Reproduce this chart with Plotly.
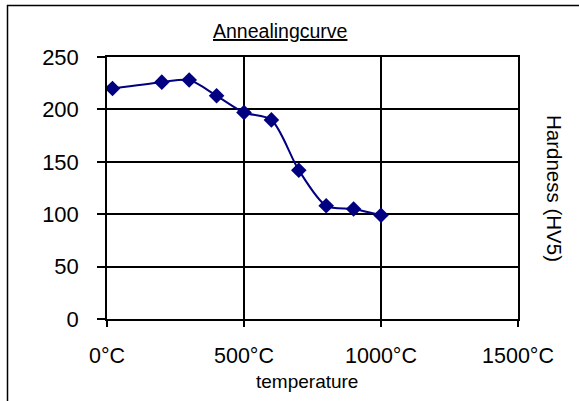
import plotly.graph_objects as go

temperature = [20, 200, 300, 400, 500, 600, 700, 800, 900, 1000]
hardness = [220, 226, 228, 213, 197, 190, 142, 108, 105, 99]
x_ticks = [0, 500, 1000, 1500]
x_tick_labels = ["0°C", "500°C", "1000°C", "1500°C"]
y_ticks = [0, 50, 100, 150, 200, 250]

navy = "#000080"
font_family = "Liberation Sans, Arial, sans-serif"

fig = go.Figure()
fig.add_trace(go.Scatter(
    x=temperature, y=hardness, mode="lines+markers",
    line=dict(color=navy, width=2, shape="spline", smoothing=0.8),
    marker=dict(symbol="diamond", size=12, color=navy),
    showlegend=False, hoverinfo="skip",
))

fig.update_layout(
    width=579, height=401,
    margin=dict(l=107, r=61, t=57, b=82),
    paper_bgcolor="white", plot_bgcolor="white",
    font=dict(family=font_family, color="black"),
    xaxis=dict(
        range=[0, 1500], tickvals=x_ticks, ticktext=x_tick_labels,
        showgrid=True, gridcolor="black", gridwidth=1.5,
        showline=True, linecolor="black", linewidth=1.5, mirror=True,
        ticks="outside", ticklen=6, tickcolor="black", tickwidth=1.5,
        tickfont=dict(size=21.5), ticklabelstandoff=10, zeroline=False,
    ),
    yaxis=dict(
        range=[0, 250], tickvals=y_ticks,
        showgrid=True, gridcolor="black", gridwidth=1.5,
        showline=True, linecolor="black", linewidth=1.5, mirror=True,
        ticks="outside", ticklen=8, tickcolor="black", tickwidth=1.5,
        tickfont=dict(size=22), ticklabelstandoff=14, zeroline=False,
    ),
    annotations=[
        dict(text="<u>Annealingcurve</u>", xref="paper", yref="paper",
             x=(279.5 - 107) / 411, y=(319 - 31) / 262, xanchor="center", yanchor="middle",
             showarrow=False,
             font=dict(family="Liberation Sans Narrow, Arial Narrow, Liberation Sans, sans-serif", size=19.5)),
        dict(text="temperature", xref="paper", yref="paper",
             x=(306.5 - 107) / 411, y=(319 - 381) / 262, xanchor="center", yanchor="middle",
             showarrow=False, font=dict(size=19)),
        dict(text="Hardness (HV5)", xref="paper", yref="paper",
             x=(555 - 107) / 411, y=(319 - 188) / 262, xanchor="center", yanchor="middle",
             textangle=90, showarrow=False, font=dict(size=20.5)),
    ],
    shapes=[
        dict(type="rect", xref="paper", yref="paper",
             x0=(7.5 - 107) / 411, x1=(620 - 107) / 411,
             y0=(319 - 450) / 262, y1=(319 - 5.5) / 262,
             line=dict(color="black", width=1.5), layer="below"),
    ],
)

fig.write_html("out.html", config={"displayModeBar": False},
               post_script="document.body.style.margin='0px';")
